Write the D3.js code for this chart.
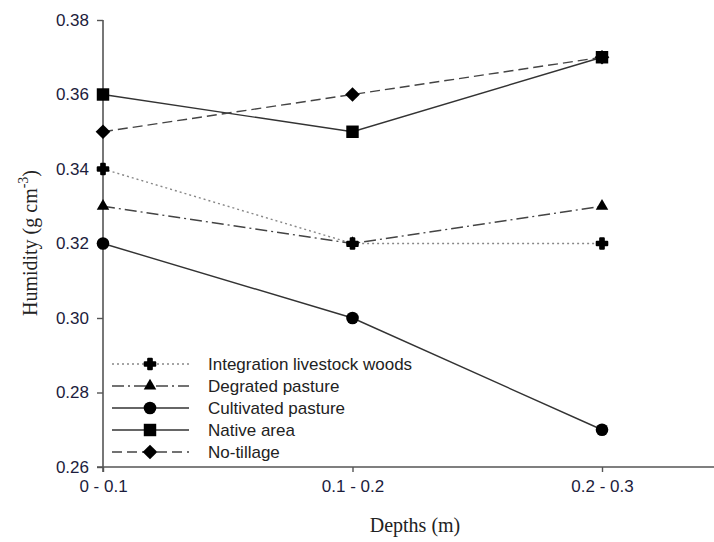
<!DOCTYPE html>
<html>
<head>
<meta charset="utf-8">
<script src="https://cdn.jsdelivr.net/npm/d3@7"></script>
<style>
  body { margin: 0; background: #fff; }
  svg { display: block; }
</style>
</head>
<body>
<svg width="714" height="542"></svg>
<script>
// Data
// ----
var depths = ['0 - 0.1', '0.1 - 0.2', '0.2 - 0.3'];
var seriesNames = ['Integration livestock woods', 'Degrated pasture', 'Cultivated pasture', 'Native area', 'No-tillage'];
var integration = [0.34, 0.32, 0.32];
var degraded = [0.33, 0.32, 0.33];
var cultivated = [0.32, 0.30, 0.27];
var native = [0.36, 0.35, 0.37];
var noTillage = [0.35, 0.36, 0.37];
var yTicks = [0.26, 0.28, 0.30, 0.32, 0.34, 0.36, 0.38];

var series = [
  {name: seriesNames[0], values: integration, dash: '2,3', stroke: '#888', symbol: d3.symbolCross, size: 60, rot: 0, edge: 2.2},
  {name: seriesNames[1], values: degraded, dash: '12,4,2,4', stroke: '#444', symbol: d3.symbolTriangle, size: 68, rot: 0, edge: 0},
  {name: seriesNames[2], values: cultivated, dash: null, stroke: '#333', symbol: d3.symbolCircle, size: 125, rot: 0, edge: 0},
  {name: seriesNames[3], values: native, dash: null, stroke: '#333', symbol: d3.symbolSquare, size: 155, rot: 0, edge: 0},
  {name: seriesNames[4], values: noTillage, dash: '10,5', stroke: '#444', symbol: d3.symbolSquare, size: 108, rot: 45, edge: 0}
];

var svg = d3.select('svg');

var x = d3.scaleLinear().domain([0, 2]).range([103, 602]);
var y = d3.scaleLinear().domain([0.26, 0.38]).range([467, 20]);

// Axes
// ----
svg.append('line')
   .attr('x1', 97).attr('x2', 714)
   .attr('y1', y(0.26)).attr('y2', y(0.26))
   .attr('stroke', '#555').attr('stroke-width', 1.6);
svg.append('line')
   .attr('x1', x(0)).attr('x2', x(0))
   .attr('y1', y(0.38)).attr('y2', y(0.26) + 5)
   .attr('stroke', '#555').attr('stroke-width', 1.6);

var yAxis = svg.append('g').attr('transform', 'translate(' + x(0) + ',0)')
   .call(d3.axisLeft(y).tickValues(yTicks).tickFormat(d3.format('.2f')).tickSize(6).tickPadding(8));
yAxis.select('.domain').remove();

var xAxis = svg.append('g').attr('transform', 'translate(0,' + y(0.26) + ')')
   .call(d3.axisBottom(x).tickValues([0, 1, 2]).tickFormat(function (d) { return depths[d]; }).tickSize(5).tickPadding(8));
xAxis.select('.domain').remove();

svg.selectAll('.tick line').attr('stroke', '#555').attr('stroke-width', 1.4);
svg.selectAll('.tick text')
   .attr('font-family', '"Liberation Sans", Arial, sans-serif')
   .attr('font-size', '17px')
   .attr('fill', '#1c1c3c');

// Axis titles
// -----------
svg.append('text')
   .attr('x', 415).attr('y', 532)
   .attr('text-anchor', 'middle')
   .attr('font-family', '"Liberation Serif", "Times New Roman", serif')
   .attr('font-size', '20px')
   .attr('fill', '#222')
   .text('Depths (m)');

var yt = svg.append('text')
   .attr('transform', 'translate(37,243) rotate(-90)')
   .attr('text-anchor', 'middle')
   .attr('font-family', '"Liberation Serif", "Times New Roman", serif')
   .attr('font-size', '20px')
   .attr('fill', '#222');
yt.append('tspan').text('Humidity (g cm');
yt.append('tspan').attr('dy', -9).attr('font-size', '14px').text('-3');
yt.append('tspan').attr('dy', 9).text(')');

// Series
// ------
var line = d3.line()
  .x(function (d, i) { return x(i); })
  .y(function (d) { return y(d); });

series.forEach(function (s) {
  svg.append('path')
     .attr('d', line(s.values))
     .attr('fill', 'none')
     .attr('stroke', s.stroke)
     .attr('stroke-width', 1.4)
     .attr('stroke-dasharray', s.dash);
});

function marker(sel, s) {
  sel.attr('d', d3.symbol().type(s.symbol).size(s.size))
     .attr('fill', '#000')
     .attr('stroke', s.edge ? '#000' : 'none')
     .attr('stroke-width', s.edge)
     .attr('stroke-linejoin', 'round');
}

series.forEach(function (s) {
  svg.selectAll(null)
     .data(s.values)
     .enter().append('path')
     .attr('transform', function (d, i) { return 'translate(' + x(i) + ',' + y(d) + ') rotate(' + s.rot + ')'; })
     .call(marker, s);
});

// Legend
// ------
var legend = svg.append('g');
series.forEach(function (s, i) {
  var ly = 364 + i * 22;
  legend.append('line')
     .attr('x1', 112).attr('x2', 189)
     .attr('y1', ly).attr('y2', ly)
     .attr('stroke', s.stroke)
     .attr('stroke-width', 1.4)
     .attr('stroke-dasharray', s.dash);
  legend.append('path')
     .attr('transform', 'translate(150,' + ly + ') rotate(' + s.rot + ')')
     .call(marker, s);
  legend.append('text')
     .attr('x', 208).attr('y', ly + 6)
     .attr('font-family', '"Liberation Sans", Arial, sans-serif')
     .attr('font-size', '17px')
     .attr('fill', '#222')
     .text(s.name);
});
</script>
</body>
</html>
